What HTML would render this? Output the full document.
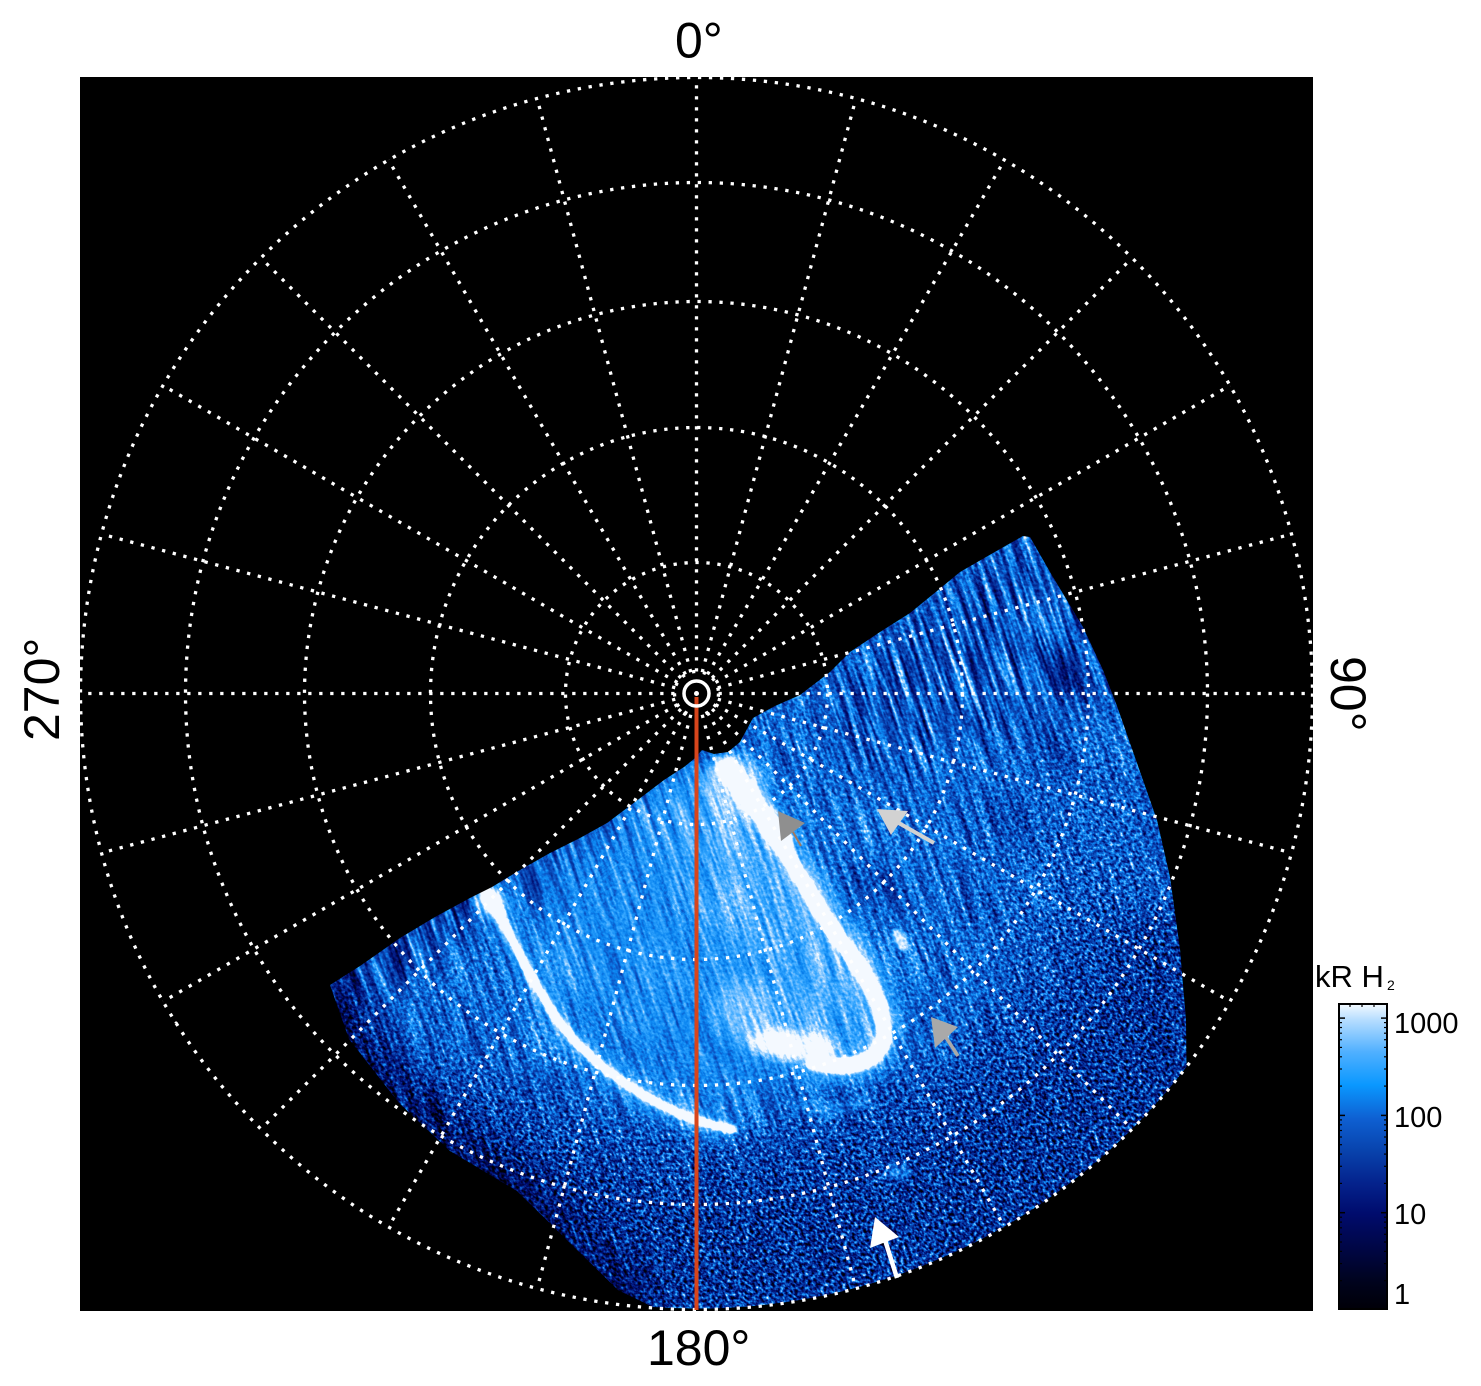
<!DOCTYPE html>
<html><head><meta charset="utf-8">
<style>
html,body{margin:0;padding:0;background:#fff;width:1481px;height:1386px;overflow:hidden;}
#wrap{position:absolute;left:0;top:0;width:1481px;height:1386px;overflow:hidden;}
svg{display:block;}
text{font-family:"Liberation Sans",Arial,sans-serif;fill:#000;}
</style></head>
<body>
<div id="wrap">
<svg width="1481" height="1386" viewBox="0 0 1481 1386" xmlns="http://www.w3.org/2000/svg" overflow="hidden">
<defs>
  <clipPath id="dataClip">
    <path d="M330,985 L360,966 L400,938 L435,917 L470,898 L492,887 L520,870 L550,853 L580,838 L607,823 L635,802 L664,780 L684,767 L694,759 L702,750 L714,754 L728,752 L740,742 L747,729 L753,718 L762,713 L775,706 L800,695 L830,672 L850,652 L880,632 L910,613 L937,591 L960,572 L1000,549 L1023,536 L1030,537 L1050,572 L1083,627 L1103,670 L1117,706 L1137,763 L1157,820 L1170,877 L1180,949 L1186,1020 L1186.5,1066.8 A616,616 0 0 1 653,1307 L618,1290 L567,1240 L517,1191 L450,1151 L399,1103 L349,1039 Z"/>
  </clipPath>
  <filter id="cmap" filterUnits="userSpaceOnUse" x="180" y="520" width="1160" height="800" color-interpolation-filters="sRGB">
    <feTurbulence type="fractalNoise" baseFrequency="0.2 0.014" numOctaves="2" seed="4" result="t1"/>
    <feColorMatrix in="t1" type="matrix" values="0 0 0 0 1  1 0 0 0 0  0 0 0 0 0  0 0 0 0 1" result="n1"/>
    <feTurbulence type="fractalNoise" baseFrequency="0.3" numOctaves="2" seed="9" result="t2"/>
    <feColorMatrix in="t2" type="matrix" values="0 0 0 0 0  0 0 0 0 0  1 0 0 0 0  0 0 0 0 1" result="n2"/>
    <feComposite in="n1" in2="n2" operator="arithmetic" k1="0" k2="1" k3="1" k4="0" result="noise"/>
    <feComposite in="SourceGraphic" in2="noise" operator="arithmetic" k1="2" k2="-1" k3="0" k4="0.5" result="mix"/>
    <feColorMatrix in="mix" type="matrix" values="4 2 2 0 -4  4 2 2 0 -4  4 2 2 0 -4  0 0 0 0 1" result="tval"/>
    <feComponentTransfer in="tval">
      <feFuncR type="table" tableValues="0 0 0 0 0.016 0.027 0.051 0.043 0.204 0.529 0.957"/>
      <feFuncG type="table" tableValues="0 0.012 0.024 0.043 0.125 0.239 0.349 0.525 0.651 0.784 0.98"/>
      <feFuncB type="table" tableValues="0.031 0.129 0.275 0.408 0.537 0.655 0.788 0.945 1 1 1"/>
    </feComponentTransfer>
  </filter>
  <filter id="b2" filterUnits="userSpaceOnUse" x="0" y="0" width="1481" height="1386" color-interpolation-filters="sRGB"><feGaussianBlur stdDeviation="2"/></filter>
  <filter id="b5" filterUnits="userSpaceOnUse" x="0" y="0" width="1481" height="1386" color-interpolation-filters="sRGB"><feGaussianBlur stdDeviation="5"/></filter>
  <filter id="b9" filterUnits="userSpaceOnUse" x="0" y="0" width="1481" height="1386" color-interpolation-filters="sRGB"><feGaussianBlur stdDeviation="9"/></filter>
  <filter id="b15" filterUnits="userSpaceOnUse" x="0" y="0" width="1481" height="1386" color-interpolation-filters="sRGB"><feGaussianBlur stdDeviation="15"/></filter>
  <filter id="b25" filterUnits="userSpaceOnUse" x="0" y="0" width="1481" height="1386" color-interpolation-filters="sRGB"><feGaussianBlur stdDeviation="25"/></filter>
  <filter id="b40" filterUnits="userSpaceOnUse" x="0" y="0" width="1481" height="1386" color-interpolation-filters="sRGB"><feGaussianBlur stdDeviation="40"/></filter>
  <linearGradient id="cbar" x1="0" y1="0" x2="0" y2="1">
    <stop offset="0" stop-color="#f4faff"/>
    <stop offset="0.05" stop-color="#b8deff"/>
    <stop offset="0.157" stop-color="#50b0ff"/>
    <stop offset="0.265" stop-color="#0a98ff"/>
    <stop offset="0.376" stop-color="#0e60d2"/>
    <stop offset="0.484" stop-color="#0842ac"/>
    <stop offset="0.59" stop-color="#04228c"/>
    <stop offset="0.69" stop-color="#000b6c"/>
    <stop offset="0.81" stop-color="#000642"/>
    <stop offset="0.915" stop-color="#00031c"/>
    <stop offset="1" stop-color="#000008"/>
  </linearGradient>
</defs>

<rect x="0" y="0" width="1481" height="1386" fill="#fff"/>
<rect x="80" y="77" width="1233" height="1234" fill="#000"/>

<!-- aurora data (intensity field -> noise -> colormap) -->
<g clip-path="url(#dataClip)">
 <g transform="translate(0 920) skewX(19) translate(0 -920)" filter="url(#cmap)">
  <g transform="translate(0 920) skewX(-19) translate(0 -920)">
    <rect x="325" y="528" width="868" height="786" fill="rgb(40,46,46)"/>
    <!-- upper right streaky zone -->
    <polygon points="820,690 1030,528 1120,640 1060,720 920,760 840,760" fill="rgb(36,82,31)" filter="url(#b25)"/>
    <!-- upper-left edge band -->
    <polyline points="330,985 470,895 600,828 690,762" fill="none" stroke="rgb(35,82,26)" stroke-width="70" filter="url(#b15)"/>
    <!-- right region -->
    <ellipse cx="1090" cy="930" rx="100" ry="180" fill="rgb(38,26,77)" filter="url(#b40)"/>
    <!-- bottom speckle sectors -->
    <path d="M1095.3,879.4 L1193,925 L1193,1314 L325,1314 L325,1223 L444.1,1053.9 A440,440 0 0 0 1095.3,879.4 Z" fill="rgb(33,20,92)" filter="url(#b25)"/>
    <path d="M1149.6,904.8 L1193,925 L1193,1314 L325,1314 L325,1223 L409.7,1103.1 A500,500 0 0 0 1149.6,904.8 Z" fill="rgb(28,15,102)" filter="url(#b25)"/>
    <!-- upper-left mid -->
    <polygon points="520,880 600,830 690,770 720,790 700,880 600,900" fill="rgb(43,51,20)" filter="url(#b25)"/>
    <!-- oval interior -->
    <polygon points="520,905 600,840 680,790 722,770 780,850 840,960 860,1040 800,1070 730,1115 640,1085 575,1035 530,965" fill="rgb(46,31,20)" filter="url(#b25)"/>
    <!-- light band under notch -->
    <polygon points="660,778 700,760 735,772 750,850 715,930 670,890" fill="rgb(51,38,15)" filter="url(#b25)"/>
    <!-- U diffuse -->
    <ellipse cx="790" cy="955" rx="70" ry="115" transform="rotate(-28 790 955)" fill="rgb(52,31,20)" filter="url(#b15)"/>
    <!-- notch white -->
    <ellipse cx="735" cy="785" rx="28" ry="26" fill="rgb(61,26,13)" filter="url(#b9)"/>
    <polyline points="712,768 726,815 742,865" fill="none" stroke="rgb(58,26,13)" stroke-width="16" filter="url(#b9)"/>
    <!-- U left blob -->
    <ellipse cx="742" cy="1012" rx="26" ry="34" fill="rgb(56,26,15)" filter="url(#b9)"/>
    <!-- arc glows -->
    <path d="M488,893 C505,925 525,968 545,1000 C565,1035 595,1065 640,1093 C670,1111 700,1124 736,1130" fill="none" stroke="rgb(54,26,13)" stroke-width="20" filter="url(#b9)"/>
    <path d="M722,763 C755,800 785,850 820,910 C845,950 880,985 884,1030 C887,1060 850,1075 808,1060" fill="none" stroke="rgb(55,26,13)" stroke-width="32" filter="url(#b9)"/>
    <!-- U bottom blob -->
    <ellipse cx="792" cy="1045" rx="44" ry="15" transform="rotate(6 792 1045)" fill="rgb(66,20,10)" filter="url(#b5)"/>
    <!-- arc cores -->
    <path d="M488,893 C505,925 525,968 545,1000 C565,1035 595,1065 640,1093 C670,1111 700,1124 736,1130" fill="none" stroke="rgb(86,13,8)" stroke-width="7" filter="url(#b2)"/>
    <ellipse cx="490" cy="900" rx="10" ry="17" transform="rotate(-30 490 900)" fill="rgb(80,13,8)" filter="url(#b5)"/>
    <path d="M722,763 C755,800 785,850 820,910 C845,950 880,985 884,1030 C887,1060 850,1075 808,1060" fill="none" stroke="rgb(86,13,8)" stroke-width="14" filter="url(#b2)"/>
    <path d="M722,763 C745,790 765,815 785,845" fill="none" stroke="rgb(80,13,8)" stroke-width="20" filter="url(#b5)"/>
    <!-- small bright features -->
    <ellipse cx="900" cy="940" rx="7" ry="13" transform="rotate(-30 900 940)" fill="rgb(61,20,15)" filter="url(#b2)"/>
    <polyline points="790,1105 830,1110 870,1100" fill="none" stroke="rgb(53,20,15)" stroke-width="7" filter="url(#b5)"/>
    <ellipse cx="898" cy="1172" rx="13" ry="6" fill="rgb(55,20,15)" filter="url(#b5)"/>
    <!-- lower-left fade -->
    <polyline points="330,985 353,1037 403,1100 453,1147 520,1187 570,1237 620,1287 650,1300" fill="none" stroke="rgb(19,51,77)" stroke-width="50" filter="url(#b15)"/>
  </g>
 </g>
</g>

<!-- grid -->
<g fill="none" stroke="#fff" stroke-width="3.3" stroke-dasharray="3.3 7.7">
  <circle cx="696.5" cy="693.5" r="22"/>
  <circle cx="696.5" cy="693.5" r="131"/>
  <circle cx="696.5" cy="693.5" r="266"/>
  <circle cx="696.5" cy="693.5" r="392"/>
  <circle cx="696.5" cy="693.5" r="511"/>
  <circle cx="696.5" cy="693.5" r="616"/>
  <line x1="718.5" y1="693.5" x2="1312.5" y2="693.5"/>
  <line x1="717.75" y1="699.19" x2="1291.5" y2="852.93"/>
  <line x1="715.55" y1="704.5" x2="1230" y2="1001.5"/>
  <line x1="712.06" y1="709.06" x2="1132.1" y2="1129.1"/>
  <line x1="707.5" y1="712.55" x2="1004.5" y2="1227"/>
  <line x1="702.19" y1="714.75" x2="855.93" y2="1288.5"/>
  <line x1="696.5" y1="715.5" x2="696.5" y2="1309.5"/>
  <line x1="690.81" y1="714.75" x2="537.07" y2="1288.5"/>
  <line x1="685.5" y1="712.55" x2="388.5" y2="1227"/>
  <line x1="680.94" y1="709.06" x2="260.9" y2="1129.1"/>
  <line x1="677.45" y1="704.5" x2="163" y2="1001.5"/>
  <line x1="675.25" y1="699.19" x2="101.5" y2="852.93"/>
  <line x1="674.5" y1="693.5" x2="80.5" y2="693.5"/>
  <line x1="675.25" y1="687.81" x2="101.5" y2="534.07"/>
  <line x1="677.45" y1="682.5" x2="163" y2="385.5"/>
  <line x1="680.94" y1="677.94" x2="260.9" y2="257.9"/>
  <line x1="685.5" y1="674.45" x2="388.5" y2="160"/>
  <line x1="690.81" y1="672.25" x2="537.07" y2="98.5"/>
  <line x1="696.5" y1="671.5" x2="696.5" y2="77.5"/>
  <line x1="702.19" y1="672.25" x2="855.93" y2="98.5"/>
  <line x1="707.5" y1="674.45" x2="1004.5" y2="160"/>
  <line x1="712.06" y1="677.94" x2="1132.1" y2="257.9"/>
  <line x1="715.55" y1="682.5" x2="1230" y2="385.5"/>
  <line x1="717.75" y1="687.81" x2="1291.5" y2="534.07"/>
</g>

<!-- red meridian -->
<line x1="696.5" y1="697" x2="696.5" y2="1310" stroke="#d8451b" stroke-width="4"/>
<!-- pole marker -->
<circle cx="696.5" cy="693.5" r="12.5" fill="none" stroke="#fff" stroke-width="3.5"/>
<circle cx="696.5" cy="693.5" r="2.5" fill="#fff"/>

<!-- arrows -->
<polygon points="778,811 805,823 781,841" fill="#8f8f8f"/>
<line x1="793" y1="832" x2="801" y2="846" stroke="#a07860" stroke-width="2"/>
<polygon points="877,809 908,811 891,835" fill="#d2d2d2"/>
<line x1="897" y1="822" x2="934" y2="843" stroke="#d2d2d2" stroke-width="4"/>
<polygon points="931,1017 958,1027 935,1048" fill="#a9a9a9"/>
<line x1="945" y1="1036" x2="958" y2="1056" stroke="#a9a9a9" stroke-width="3.5"/>
<polygon points="875,1217 899,1237 870,1248" fill="#fff"/>
<line x1="885" y1="1240" x2="897" y2="1278" stroke="#fff" stroke-width="4.5"/>

<!-- axis labels -->
<text x="675" y="57.5" font-size="50">0°</text>
<text x="647" y="1365" font-size="50">180°</text>
<text transform="translate(59 741) rotate(-90)" font-size="50">270°</text>
<text transform="translate(1331 656) rotate(90)" font-size="50">90°</text>

<!-- colorbar -->
<rect x="1339" y="1004" width="48" height="305" fill="url(#cbar)" stroke="#000" stroke-width="2"/>
<g stroke="#000" stroke-width="1.5">
  <line x1="1339" y1="1018.1" x2="1345" y2="1018.1"/><line x1="1387" y1="1018.1" x2="1381" y2="1018.1"/>
  <line x1="1339" y1="1115.4" x2="1345" y2="1115.4"/><line x1="1387" y1="1115.4" x2="1381" y2="1115.4"/>
  <line x1="1339" y1="1212.7" x2="1345" y2="1212.7"/><line x1="1387" y1="1212.7" x2="1381" y2="1212.7"/>
</g>
<g stroke="#000" stroke-width="1.2">
  <line x1="1339" y1="1280.7" x2="1342" y2="1280.7"/><line x1="1387" y1="1280.7" x2="1384" y2="1280.7"/>
  <line x1="1339" y1="1263.6" x2="1342" y2="1263.6"/><line x1="1387" y1="1263.6" x2="1384" y2="1263.6"/>
  <line x1="1339" y1="1251.4" x2="1342" y2="1251.4"/><line x1="1387" y1="1251.4" x2="1384" y2="1251.4"/>
  <line x1="1339" y1="1242.0" x2="1342" y2="1242.0"/><line x1="1387" y1="1242.0" x2="1384" y2="1242.0"/>
  <line x1="1339" y1="1234.3" x2="1342" y2="1234.3"/><line x1="1387" y1="1234.3" x2="1384" y2="1234.3"/>
  <line x1="1339" y1="1227.8" x2="1342" y2="1227.8"/><line x1="1387" y1="1227.8" x2="1384" y2="1227.8"/>
  <line x1="1339" y1="1222.1" x2="1342" y2="1222.1"/><line x1="1387" y1="1222.1" x2="1384" y2="1222.1"/>
  <line x1="1339" y1="1217.2" x2="1342" y2="1217.2"/><line x1="1387" y1="1217.2" x2="1384" y2="1217.2"/>
  <line x1="1339" y1="1183.4" x2="1342" y2="1183.4"/><line x1="1387" y1="1183.4" x2="1384" y2="1183.4"/>
  <line x1="1339" y1="1166.3" x2="1342" y2="1166.3"/><line x1="1387" y1="1166.3" x2="1384" y2="1166.3"/>
  <line x1="1339" y1="1154.1" x2="1342" y2="1154.1"/><line x1="1387" y1="1154.1" x2="1384" y2="1154.1"/>
  <line x1="1339" y1="1144.7" x2="1342" y2="1144.7"/><line x1="1387" y1="1144.7" x2="1384" y2="1144.7"/>
  <line x1="1339" y1="1137.0" x2="1342" y2="1137.0"/><line x1="1387" y1="1137.0" x2="1384" y2="1137.0"/>
  <line x1="1339" y1="1130.5" x2="1342" y2="1130.5"/><line x1="1387" y1="1130.5" x2="1384" y2="1130.5"/>
  <line x1="1339" y1="1124.8" x2="1342" y2="1124.8"/><line x1="1387" y1="1124.8" x2="1384" y2="1124.8"/>
  <line x1="1339" y1="1119.9" x2="1342" y2="1119.9"/><line x1="1387" y1="1119.9" x2="1384" y2="1119.9"/>
  <line x1="1339" y1="1086.1" x2="1342" y2="1086.1"/><line x1="1387" y1="1086.1" x2="1384" y2="1086.1"/>
  <line x1="1339" y1="1069.0" x2="1342" y2="1069.0"/><line x1="1387" y1="1069.0" x2="1384" y2="1069.0"/>
  <line x1="1339" y1="1056.8" x2="1342" y2="1056.8"/><line x1="1387" y1="1056.8" x2="1384" y2="1056.8"/>
  <line x1="1339" y1="1047.4" x2="1342" y2="1047.4"/><line x1="1387" y1="1047.4" x2="1384" y2="1047.4"/>
  <line x1="1339" y1="1039.7" x2="1342" y2="1039.7"/><line x1="1387" y1="1039.7" x2="1384" y2="1039.7"/>
  <line x1="1339" y1="1033.2" x2="1342" y2="1033.2"/><line x1="1387" y1="1033.2" x2="1384" y2="1033.2"/>
  <line x1="1339" y1="1027.5" x2="1342" y2="1027.5"/><line x1="1387" y1="1027.5" x2="1384" y2="1027.5"/>
  <line x1="1339" y1="1022.6" x2="1342" y2="1022.6"/><line x1="1387" y1="1022.6" x2="1384" y2="1022.6"/>
  <line x1="1350" y1="1004" x2="1350" y2="1007"/><line x1="1362" y1="1004" x2="1362" y2="1007"/><line x1="1374" y1="1004" x2="1374" y2="1007"/>
</g>
<text x="1315" y="987" font-size="31">kR H</text>
<text x="1387" y="990" font-size="14">2</text>
<text x="1394" y="1033" font-size="29">1000</text>
<text x="1394" y="1127" font-size="29">100</text>
<text x="1394" y="1224" font-size="29">10</text>
<text x="1394" y="1304" font-size="29">1</text>
</svg>
</div>
</body></html>
